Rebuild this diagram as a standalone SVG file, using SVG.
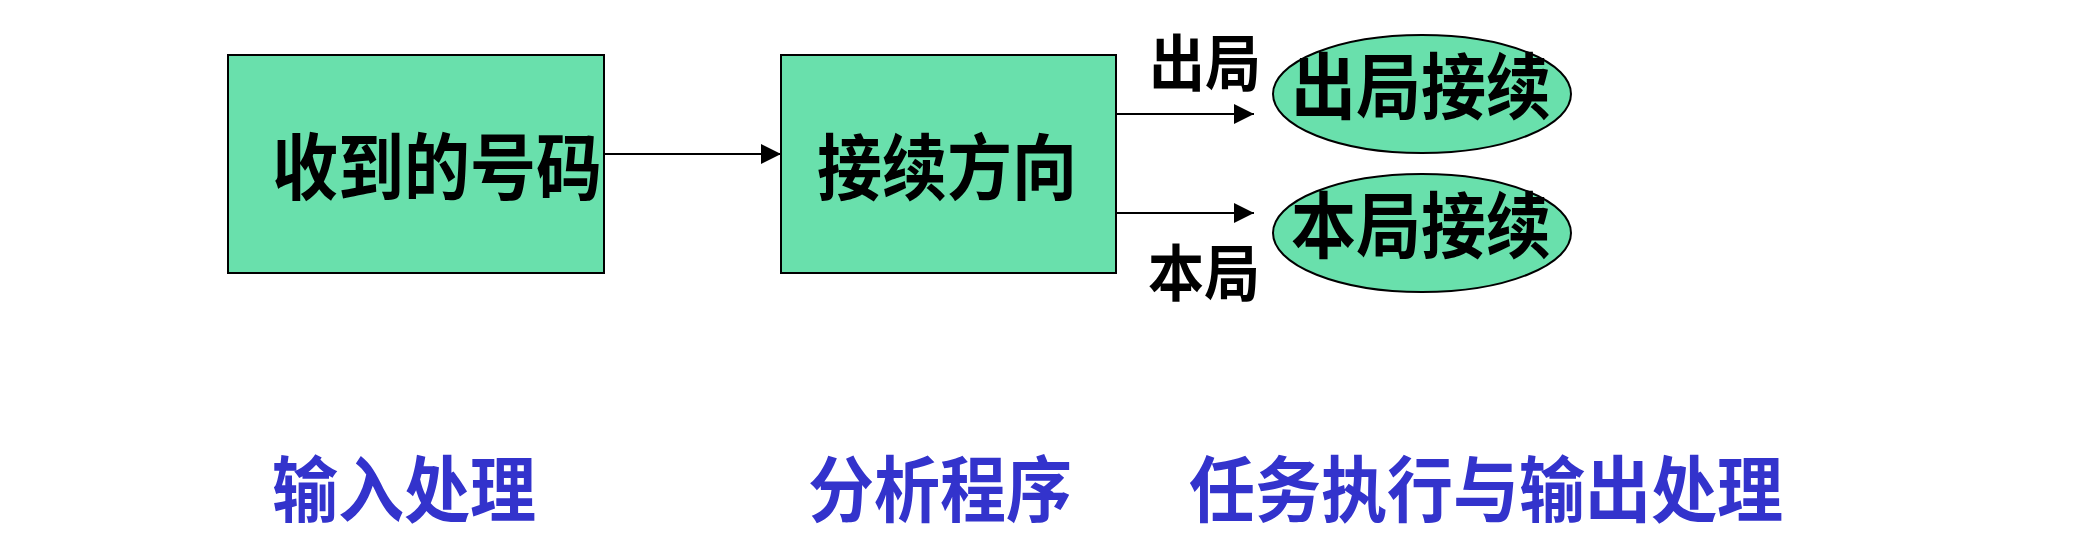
<svg xmlns="http://www.w3.org/2000/svg" width="2090" height="538" viewBox="0 0 2090 538">
<defs>
<marker id="ah" markerWidth="20" markerHeight="20" refX="20" refY="10" orient="auto" markerUnits="userSpaceOnUse">
<path d="M0,0 L20,10 L0,20 Z" fill="#000"/>
</marker>
<style>
.box{fill:#69E0AC;stroke:#000;stroke-width:2}
.t{font-family:"Noto Sans CJK SC","Noto Sans CJK JP",sans-serif;font-weight:bold;fill:#000}
.b{font-family:"Noto Sans CJK SC","Noto Sans CJK JP",sans-serif;font-weight:bold;fill:#3333CC;font-size:66px}
.c{stroke:#000;stroke-width:2;fill:none;marker-end:url(#ah)}
</style>
</defs>
<rect width="2090" height="538" fill="#fff"/>
<g id="n1"><rect class="box" x="228" y="55" width="376" height="218"/><text class="t" transform="translate(272,194) scale(1,1.1)" font-size="66">收到的号码</text></g>
<g id="n2"><rect class="box" x="781" y="55" width="335" height="218"/><text class="t" transform="translate(817,194) scale(1,1.1)" font-size="65">接续方向</text></g>
<g id="n3"><ellipse class="box" cx="1422" cy="94" rx="149" ry="59"/><text class="t" transform="translate(1291,113) scale(1,1.1)" font-size="65">出局接续</text></g>
<g id="n4"><ellipse class="box" cx="1422" cy="233" rx="149" ry="59"/><text class="t" transform="translate(1291,252) scale(1,1.1)" font-size="65">本局接续</text></g>
<g id="connectors">
<line class="c" x1="604" y1="154" x2="781" y2="154"/>
<line class="c" x1="1116" y1="114" x2="1254" y2="114"/>
<line class="c" x1="1116" y1="213" x2="1254" y2="213"/>
<text class="t" transform="translate(1149,86) scale(1,1.1)" font-size="56">出局</text>
<text class="t" transform="translate(1148,296) scale(1,1.1)" font-size="56">本局</text>
</g>
<g id="labels">
<text class="b" transform="translate(272,516) scale(1,1.08)">输入处理</text>
<text class="b" transform="translate(808,516) scale(1,1.08)">分析程序</text>
<text class="b" transform="translate(1189,516) scale(1,1.08)">任务执行与输出处理</text>
</g>
</svg>
